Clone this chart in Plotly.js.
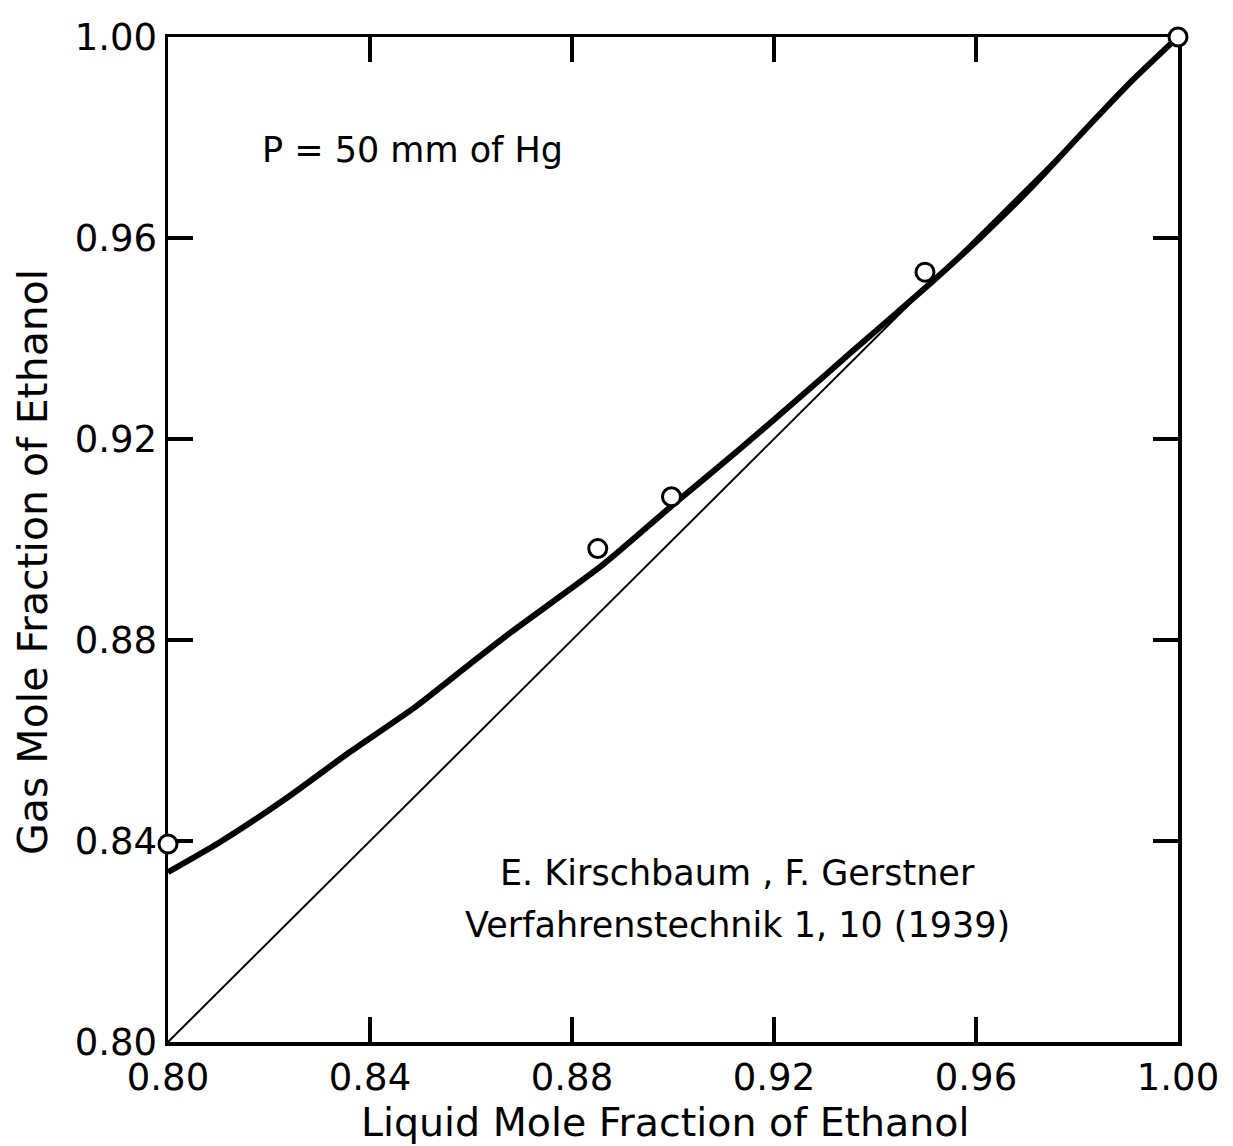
<!DOCTYPE html>
<html>
<head>
<meta charset="utf-8">
<script src="https://cdn.plot.ly/plotly-3.0.1.min.js"></script>
<style>
  html, body { margin: 0; padding: 0; background: #fff; }
  #chart { width: 1233px; height: 1146px; }
</style>
</head>
<body>
<div id="chart"></div>
<script>
// Vapour-liquid equilibrium of ethanol-water at 50 mm Hg (ethanol-rich end)
const liquidX = [0.800, 0.8851, 0.8997, 0.9499, 1.000];
const gasY = [0.8394, 0.8982, 0.9085, 0.9532, 1.000];

// Smoothed equilibrium curve
const curveX = [0.800, 0.810, 0.823, 0.836, 0.849, 0.859, 0.868, 0.886, 0.900, 0.913, 0.925, 0.935, 0.951, 0.961, 0.971, 0.981, 0.991, 1.000];
const curveY = [0.8338, 0.8396, 0.8482, 0.8577, 0.8667, 0.8746, 0.8816, 0.8949, 0.9069, 0.9178, 0.9282, 0.9370, 0.9510, 0.9602, 0.9701, 0.9809, 0.9914, 1.000];

// 45-degree reference line y = x
const diagX = [0.80, 1.00];
const diagY = [0.80, 1.00];

const tickVals = [0.80, 0.84, 0.88, 0.92, 0.96, 1.00];
const tickText = ['0.80', '0.84', '0.88', '0.92', '0.96', '1.00'];

const xTitle = 'Liquid Mole Fraction of Ethanol';
const yTitle = 'Gas Mole Fraction of Ethanol';
const pressureNote = 'P = 50 mm of Hg';
const sourceLine1 = 'E. Kirschbaum , F. Gerstner';
const sourceLine2 = 'Verfahrenstechnik 1, 10 (1939)';

const FONT = 'DejaVu Sans, Arial, sans-serif';

const traces = [
  {
    x: diagX, y: diagY, mode: 'lines', type: 'scatter',
    line: { color: '#000', width: 2 }, hoverinfo: 'skip'
  },
  {
    x: curveX, y: curveY, mode: 'lines', type: 'scatter',
    line: { color: '#000', width: 6, shape: 'spline', smoothing: 0.6 },
    hoverinfo: 'skip'
  },
  {
    x: liquidX, y: gasY, mode: 'markers', type: 'scatter',
    cliponaxis: false,
    marker: { symbol: 'circle', size: 18, color: '#fff', line: { color: '#000', width: 3 } }
  }
];

const axisCommon = {
  range: [0.80, 1.00],
  tickmode: 'array',
  tickvals: tickVals,
  ticktext: tickText,
  ticks: 'inside',
  ticklen: 25,
  tickwidth: 3.5,
  tickcolor: '#000',
  showline: true,
  linecolor: '#000',
  linewidth: 3.5,
  mirror: 'ticks',
  showgrid: false,
  zeroline: false,
  layer: 'below traces',
  tickfont: { family: FONT, size: 37, color: '#000' },
  fixedrange: true
};

const layout = {
  width: 1233,
  height: 1146,
  margin: { l: 168, r: 55, t: 37, b: 104 },
  paper_bgcolor: '#fff',
  plot_bgcolor: '#fff',
  showlegend: false,
  xaxis: Object.assign({}, axisCommon),
  yaxis: Object.assign({}, axisCommon),
  annotations: [
    {
      text: xTitle, xref: 'paper', yref: 'paper', x: 0.493, y: -0.0796,
      xanchor: 'center', yanchor: 'middle', showarrow: false,
      font: { family: FONT, size: 39.5, color: '#000' }
    },
    {
      text: yTitle, xref: 'paper', yref: 'paper', x: -0.1337, y: 0.4776,
      xanchor: 'center', yanchor: 'middle', textangle: -90, showarrow: false,
      font: { family: FONT, size: 41, color: '#000' }
    },
    {
      text: pressureNote, xref: 'x', yref: 'y', x: 0.8182, y: 0.9775,
      xanchor: 'left', yanchor: 'middle', showarrow: false,
      font: { family: FONT, size: 35, color: '#000' }
    },
    {
      text: sourceLine1, xref: 'x', yref: 'y', x: 0.9127, y: 0.8336,
      xanchor: 'center', yanchor: 'middle', showarrow: false,
      font: { family: FONT, size: 35, color: '#000' }
    },
    {
      text: sourceLine2, xref: 'x', yref: 'y', x: 0.9127, y: 0.8233,
      xanchor: 'center', yanchor: 'middle', showarrow: false,
      font: { family: FONT, size: 35, color: '#000' }
    }
  ]
};

Plotly.newPlot('chart', traces, layout, { displayModeBar: false, staticPlot: true });
</script>
</body>
</html>
